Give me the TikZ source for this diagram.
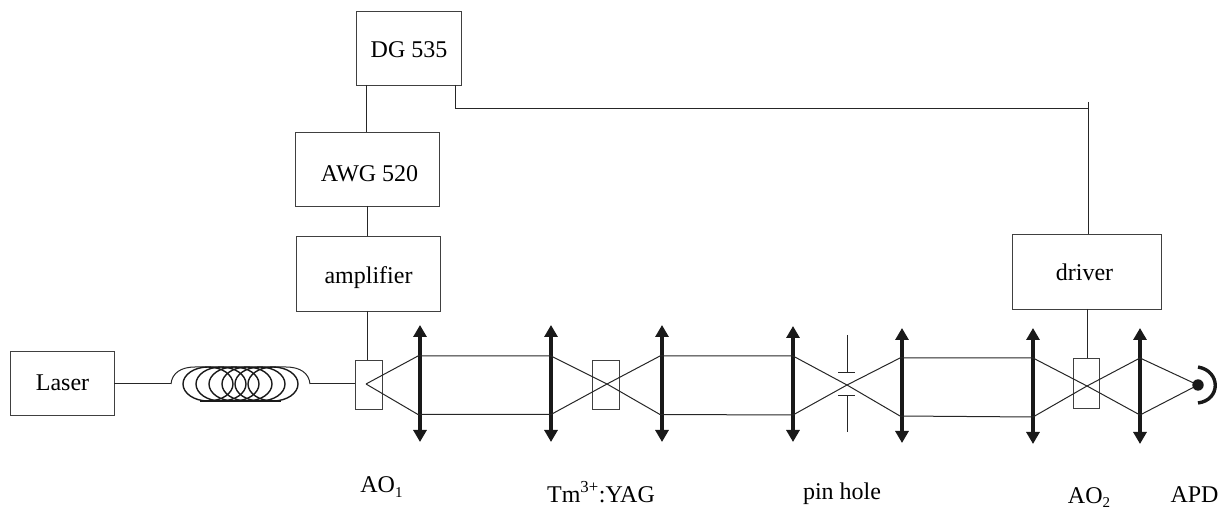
\documentclass[tikz,border=0pt]{standalone}
\usepackage{fontspec}
\setmainfont{Liberation Serif}
\usetikzlibrary{arrows.meta}
\newcommand{\lowsub}[1]{\raisebox{-5pt}{\fontsize{15}{15}\selectfont #1}}
\tikzset{
  x=1pt,y=-1pt,
  boxn/.style={draw=black!75,line width=1.1pt,inner sep=0pt,anchor=north west,align=center,font=\fontsize{24}{27}\selectfont,text depth=0pt},
  wire/.style={draw=black!85,line width=1pt},
  ray/.style={draw=black!85,line width=1pt},
  lens/.style={draw=black!90,line width=3.6pt,{Triangle[width=13pt,length=12pt]}-{Triangle[width=13pt,length=12pt]},shorten >=0pt,shorten <=0pt},
  lab/.style={inner sep=0pt,anchor=base,font=\fontsize{24}{27}\selectfont},
  coil/.style={draw=black!90,line width=1.4pt}
}
\begin{document}
\begin{tikzpicture}
\useasboundingbox (0,0) rectangle (1224,510);
% boxes
\node[boxn,minimum width=105pt,minimum height=74pt,text height=18pt] (dg) at (356,11) {DG 535};
\node[boxn,minimum width=144pt,minimum height=74pt,text height=24pt] (awg) at (295,132) {\hspace*{4pt}AWG 520};
\node[boxn,minimum width=144pt,minimum height=75pt,text height=19pt] (amp) at (296,236) {amplifier};
\node[boxn,minimum width=104pt,minimum height=64pt,text height=14pt] (laser) at (10,351) {Laser};
\node[boxn,minimum width=149pt,minimum height=75pt,text height=17pt] (drv) at (1012,234) {driver\hspace*{5pt}};
\node[boxn,minimum width=27pt,minimum height=49pt] (ao1) at (355,360) {};
\node[boxn,minimum width=27pt,minimum height=49pt] (cry) at (592,360) {};
\node[boxn,minimum width=26pt,minimum height=50pt] (ao2) at (1073,358) {};
% wires
\coordinate (dgA) at (366,85);
\coordinate (awgA) at (366,132);
\coordinate (awgB) at (367,206);
\coordinate (ampA) at (367,236);
\coordinate (ampB) at (367,311);
\coordinate (aoA) at (367,360);
\coordinate (dgB) at (455,85);
\coordinate (c1) at (455,109);
\coordinate (c2) at (1088,109);
\coordinate (c2t) at (1088,102);
\coordinate (drA) at (1088,234);
\coordinate (drB) at (1087,309);
\coordinate (ao2A) at (1087,358);
\draw[wire] (dgA) -- (awgA);
\draw[wire] (awgB) -- (ampA);
\draw[wire] (ampB) -- (aoA);
\draw[wire] (dgB) -- (c1) -- (c2);
\draw[wire] (c2t) -- (drA);
\draw[wire] (drB) -- (ao2A);
% fibre
\coordinate (f0) at (114,384);
\coordinate (f1) at (171,384);
\coordinate (f2) at (310,384);
\coordinate (f3) at (355,384);
\draw[wire] (f0) -- (f1);
\draw[wire] (f2) -- (f3);
\draw[wire] (f1) .. controls (172,373) and (181,367) .. (195,367) -- (286,367) .. controls (300,367) and (309,373) .. (310,384);
\foreach \c in {208,221,234,247,260,273}
  \draw[coil] (\c,384) ellipse [x radius=25,y radius=17];
\draw[coil,line width=1.8pt] (200,401) -- (281,401);
% lenses
\foreach \n/\x/\t/\b in {l1/420/325/442,l2/551/325/442,l3/662/325/442,l4/793/326/442,l5/902/328/443,l6/1033/328/444,l7/1140/328/444}{
  \coordinate (\n t) at (\x,\t);
  \coordinate (\n b) at (\x,\b);
  \draw[lens] (\n t) -- (\n b);
}
% beams
\coordinate (fa) at (366,384);
\coordinate (fb) at (607,384);
\coordinate (fc) at (847,385);
\coordinate (fd) at (1087,386);
\coordinate (fe) at (1198,385);
\draw[ray] (fa) -- (418,356) -- (551,356) -- (fb) -- (660,356) -- (793,356) -- (fc) -- (900,358) -- (1033,358) -- (fd) -- (1140,358) -- (fe);
\draw[ray] (fa) -- (418,414.5) -- (551,414.5) -- (fb) -- (660,414.5) -- (793,415) -- (fc) -- (900,416) -- (1033,417) -- (fd) -- (1140,415) -- (fe);
% pinhole
\coordinate (p1) at (847,335);
\coordinate (p2) at (847,373);
\coordinate (p3) at (847,396);
\coordinate (p4) at (847,432);
\draw[wire] (p1) -- (p2);
\draw[wire] (p3) -- (p4);
\draw[wire] (838,373) -- (855,373);
\draw[wire] (838,396) -- (855,396);
% APD
\fill[black!90] (fe) circle (5.7);
\draw[line width=3.4pt,black!90] (1198,367) .. controls (1221,371) and (1221,400) .. (1198,403);
% labels
\node[lab] (t1) at (381.5,493) {AO\lowsub{1}};
\node[lab] (t2) at (601,502) {Tm\textsuperscript{3+}:YAG};
\node[lab] (t3) at (842,500) {pin hole};
\node[lab] (t4) at (1089,503) {AO\lowsub{2}};
\node[lab] (t5) at (1194.5,502) {APD};
\end{tikzpicture}
\end{document}
